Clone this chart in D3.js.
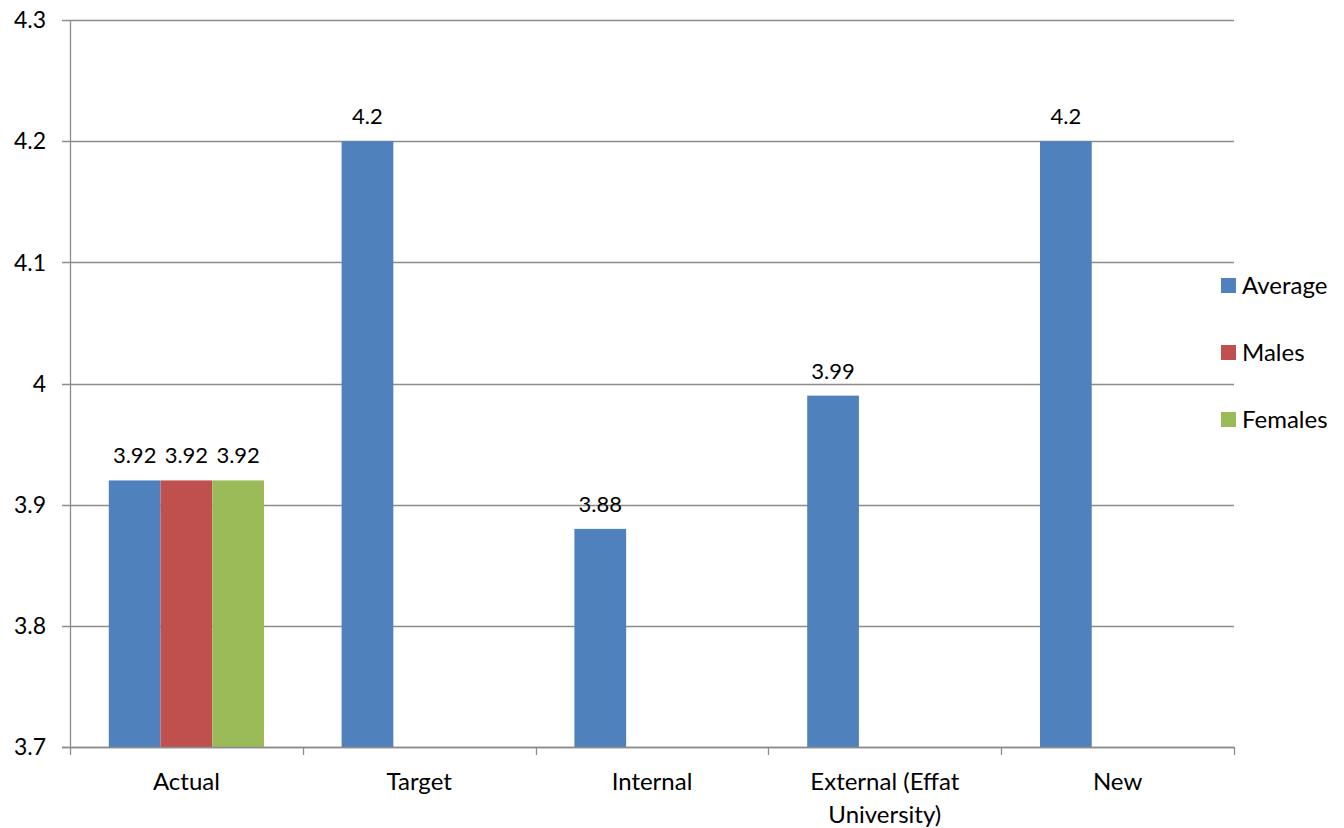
<!DOCTYPE html>
<html>
<head>
<meta charset="utf-8">
<script src="https://cdn.jsdelivr.net/npm/d3@7"></script>
<style>
  html, body { margin: 0; padding: 0; background: #fff; }
  svg text { font-family: Lato, "Open Sans", sans-serif; fill: #000; }
</style>
</head>
<body>
<svg id="chart" width="1344" height="828"></svg>
<script>
// Category labels (second line used where the label wraps)
const categories = ["Actual", "Target", "Internal", "External (Effat University)", "New"];
const categoryLines = [["Actual"], ["Target"], ["Internal"], ["External (Effat", "University)"], ["New"]];
const seriesNames = ["Average", "Males", "Females"];
const seriesColors = ["#4F81BD", "#C0504D", "#9BBB59"];
// Values per series, null where the category has no bar
const averageValues = [3.92, 4.2, 3.88, 3.99, 4.2];
const malesValues = [3.92, null, null, null, null];
const femalesValues = [3.92, null, null, null, null];
const yTicks = [3.7, 3.8, 3.9, 4, 4.1, 4.2, 4.3];

const seriesValues = [averageValues, malesValues, femalesValues];

const svg = d3.select("#chart");
const plotLeft = 70, plotRight = 1234, plotTop = 20, plotBottom = 747;

const y = d3.scaleLinear().domain([3.7, 4.3]).range([plotBottom, plotTop]);
const x0 = d3.scaleBand().domain(categories).range([plotLeft, plotRight]).paddingInner(0).paddingOuter(0);
// group of three bars with a 150% gap
const barW = x0.bandwidth() / 4.5;
const x1 = d3.scaleBand().domain(seriesNames)
  .range([barW * 0.75, barW * 3.75]).padding(0);

// gridlines
svg.append("g").selectAll("line").data(yTicks).join("line")
  .attr("x1", plotLeft - 8).attr("x2", plotRight)
  .attr("y1", d => Math.round(y(d)) + 0.5).attr("y2", d => Math.round(y(d)) + 0.5)
  .attr("stroke", "#8C8C8C").attr("stroke-width", 1.3);

// y tick labels
svg.append("g").selectAll("text").data(yTicks).join("text")
  .attr("x", 46).attr("y", d => y(d))
  .attr("dy", "0.36em")
  .attr("text-anchor", "end")
  .attr("font-size", 23)
  .text(d => d3.format("")(d));

// bars
const bars = [];
categories.forEach((c, i) => {
  seriesNames.forEach((s, j) => {
    const v = seriesValues[j][i];
    if (v != null) bars.push({ c, s, v, color: seriesColors[j] });
  });
});

svg.append("g").selectAll("rect").data(bars).join("rect")
  .attr("x", d => x0(d.c) + x1(d.s))
  .attr("width", x1.bandwidth())
  .attr("y", d => y(d.v))
  .attr("height", d => y(3.7) - y(d.v))
  .attr("fill", d => d.color);

// value labels
svg.append("g").selectAll("text").data(bars).join("text")
  .attr("x", d => x0(d.c) + x1(d.s) + x1.bandwidth() / 2)
  .attr("y", d => y(d.v) - 25)
  .attr("dy", "0.36em")
  .attr("text-anchor", "middle")
  .attr("font-size", 22)
  .text(d => d.v);

// axis lines
svg.append("line").attr("x1", plotLeft + 0.5).attr("x2", plotLeft + 0.5)
  .attr("y1", plotTop).attr("y2", plotBottom + 0.5)
  .attr("stroke", "#8C8C8C").attr("stroke-width", 1.3);
svg.append("line").attr("x1", plotLeft - 8).attr("x2", plotRight)
  .attr("y1", plotBottom + 0.5).attr("y2", plotBottom + 0.5)
  .attr("stroke", "#8C8C8C").attr("stroke-width", 1.3);

// category tick marks
const bounds = categories.map(c => x0(c)).concat([plotRight]);
svg.append("g").selectAll("line").data(bounds).join("line")
  .attr("x1", d => Math.round(d) + 0.5).attr("x2", d => Math.round(d) + 0.5)
  .attr("y1", plotBottom).attr("y2", plotBottom + 8)
  .attr("stroke", "#8C8C8C").attr("stroke-width", 1.3);

// category labels
const catG = svg.append("g").selectAll("text").data(categories).join("text")
  .attr("x", d => x0(d) + x0.bandwidth() / 2)
  .attr("y", 781)
  .attr("text-anchor", "middle")
  .attr("font-size", 24);
catG.each(function(d, i) {
  d3.select(this).selectAll("tspan").data(categoryLines[i]).join("tspan")
    .attr("x", x0(d) + x0.bandwidth() / 2)
    .attr("dy", (t, k) => k === 0 ? "0.36em" : "1.38em")
    .text(t => t);
});

// legend
const legend = svg.append("g").selectAll("g").data(seriesNames).join("g")
  .attr("transform", (d, i) => `translate(1221, ${285 + i * 67})`);
legend.append("rect").attr("x", 0).attr("y", -7).attr("width", 15).attr("height", 15)
  .attr("fill", (d, i) => seriesColors[i]);
legend.append("text").attr("x", 21).attr("y", 0).attr("dy", "0.36em")
  .attr("font-size", 24).text(d => d);
</script>
</body>
</html>
